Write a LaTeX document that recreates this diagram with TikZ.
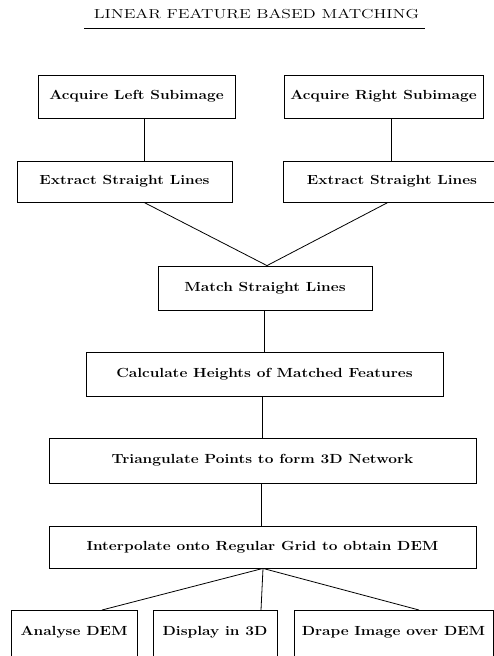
\documentclass[tikz,border=0pt]{standalone}
\usepackage{graphicx}
\begin{document}
\begin{tikzpicture}[x=1pt,y=-1pt, line width=0.8pt,
  stagebox/.style={draw, inner sep=0pt, minimum height=#1,
    font=\fontsize{13.2}{15}\selectfont\bfseries},
  stagebox/.default=43,
  lowbox/.style={draw, inner xsep=0pt, inner ysep=15.5pt,
    text height=10pt, text depth=15pt, anchor=north,
    font=\fontsize{13.2}{15}\selectfont\bfseries}]
\newcommand{\stretchtext}[1]{\scalebox{1.17}[1]{#1}}
\useasboundingbox (0,0) rectangle (494,656);
\clip (0,0) rectangle (494,656);

% heading
\node[anchor=base, inner sep=0pt, font=\fontsize{13}{15}\selectfont] (title) at (256.5,18)
  {\scalebox{1.35}[1]{LINEAR FEATURE BASED MATCHING}};
\coordinate (ulA) at (84,28);
\coordinate (ulB) at (425,28);
\draw (ulA) -- (ulB);

% acquisition and line extraction
\node[stagebox, minimum width=197] (al) at (136.5,96.5) {\stretchtext{Acquire Left Subimage}};
\node[stagebox, minimum width=199] (ar) at (383.5,96.5) {\stretchtext{Acquire Right Subimage}};
\node[stagebox=41, minimum width=215] (el) at (124.5,181.5) {\stretchtext{Extract Straight Lines}};
\node[stagebox=41, minimum width=218] (er) at (392,181.5) {\stretchtext{Extract Straight Lines}};

% matching and surface building
\node[stagebox=44, minimum width=214] (match) at (265,288) {\stretchtext{Match Straight Lines}};
\node[stagebox=44, minimum width=357] (calc) at (264.5,374) {\stretchtext{Calculate Heights of Matched Features}};
\node[stagebox=45, minimum width=427] (tri) at (262.5,460.5) {\stretchtext{Triangulate Points to form 3D Network}};
\node[stagebox=42, minimum width=427] (interp) at (262.5,547) {\stretchtext{Interpolate onto Regular Grid to obtain DEM}};

% outputs
\node[lowbox, minimum width=126] (ana) at (74,610) {\stretchtext{Analyse DEM}};
\node[lowbox, minimum width=124] (disp) at (215,610) {\stretchtext{Display in 3D}};
\node[lowbox, minimum width=199] (drape) at (393.5,610) {\stretchtext{Drape Image over DEM}};

% connectors
\draw ([xshift=7.5pt]al.south) -- ([xshift=19.5pt]el.north);
\draw ([xshift=7.5pt]ar.south) -- ([xshift=-1pt]er.north);
\draw ([xshift=19.5pt]el.south) -- ([xshift=2pt]match.north);
\draw ([xshift=-4pt]er.south) -- ([xshift=2pt]match.north);
\draw ([xshift=-1pt]match.south) -- ([xshift=-0.5pt]calc.north);
\draw ([xshift=-2.5pt]calc.south) -- ([xshift=-0.5pt]tri.north);
\draw ([xshift=-1.5pt]tri.south) -- ([xshift=-1.5pt]interp.north);
\draw ([xshift=0.5pt]interp.south) -- ([xshift=28pt]ana.north);
\draw ([xshift=0.5pt]interp.south) -- ([xshift=46pt]disp.north);
\draw ([xshift=0.5pt]interp.south) -- ([xshift=25.5pt]drape.north);
\end{tikzpicture}
\end{document}
